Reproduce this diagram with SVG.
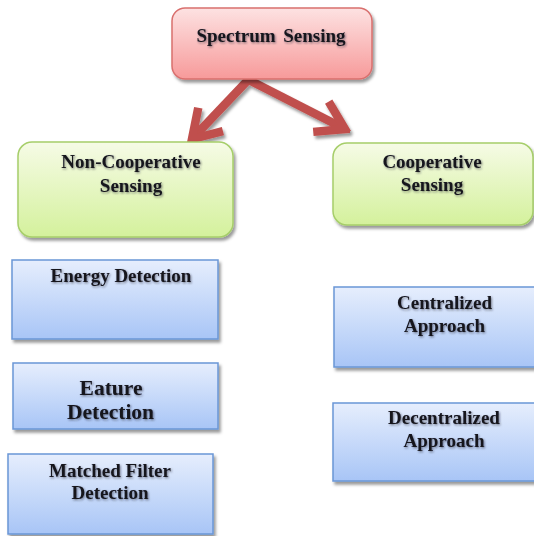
<svg xmlns="http://www.w3.org/2000/svg" width="534" height="536" viewBox="0 0 534 536">
  <defs>
    <linearGradient id="gRed" x1="0" y1="0" x2="0" y2="1">
      <stop offset="0" stop-color="#fde2e2"/>
      <stop offset="1" stop-color="#f79a9a"/>
    </linearGradient>
    <linearGradient id="gGreen" x1="0" y1="0" x2="0" y2="1">
      <stop offset="0" stop-color="#f6fbe6"/>
      <stop offset="1" stop-color="#d4f19c"/>
    </linearGradient>
    <linearGradient id="gBlue" x1="0" y1="0" x2="0" y2="1">
      <stop offset="0" stop-color="#e6eefd"/>
      <stop offset="1" stop-color="#a8c5f6"/>
    </linearGradient>
    <filter id="shadow" x="-10%" y="-10%" width="125%" height="130%">
      <feDropShadow dx="2" dy="3" stdDeviation="1.5" flood-color="#000" flood-opacity="0.4"/>
    </filter>
    <filter id="textGlow" x="-5%" y="-20%" width="110%" height="150%">
      <feDropShadow dx="1" dy="1.2" stdDeviation="0.9" flood-color="#223" flood-opacity="0.55"/>
    </filter>
    <marker id="chevron" markerUnits="userSpaceOnUse" markerWidth="44" markerHeight="44" viewBox="-38 -22 44 44" refX="0" refY="0" orient="auto">
      <path d="M-27,-17 L0,0 L-27,17" fill="none" stroke="#c0504d" stroke-width="8.5" stroke-linejoin="miter" stroke-linecap="butt"/>
    </marker>
    <style>
      .red { fill: url(#gRed); stroke: #d9706e; stroke-width: 1.5; filter: url(#shadow); }
      .green { fill: url(#gGreen); stroke: #a6ce6a; stroke-width: 1.5; filter: url(#shadow); }
      .blue { fill: url(#gBlue); stroke: #6a96d6; stroke-width: 1.5; filter: url(#shadow); }
      .label { font-family: "Liberation Serif", "Times New Roman", serif; font-weight: bold; font-size: 19px; fill: #14141e; text-anchor: middle; filter: url(#textGlow); }
      .big { font-size: 21.5px; }
      .arrow { fill: none; stroke: #c0504d; stroke-width: 8.5; stroke-linecap: butt; marker-end: url(#chevron); }
    </style>
  </defs>

  <rect width="534" height="536" fill="#ffffff"/>

  <g id="connectors" filter="url(#shadow)">
    <path class="arrow" d="M249,79 L192,139"/>
    <path class="arrow" d="M247,79 L345,129"/>
  </g>

  <g id="spectrum-sensing">
    <rect class="red" x="172" y="8" width="200" height="71" rx="13"/>
    <text class="label" x="271" y="42" word-spacing="3">Spectrum Sensing</text>
  </g>

  <g id="non-cooperative-sensing">
    <rect class="green" x="18" y="142" width="215" height="95" rx="14"/>
    <text class="label" x="131" y="168">Non-Cooperative</text>
    <text class="label" x="131" y="192">Sensing</text>
  </g>

  <g id="cooperative-sensing">
    <rect class="green" x="333" y="143" width="200" height="82" rx="14"/>
    <text class="label" x="432" y="168">Cooperative</text>
    <text class="label" x="432" y="191">Sensing</text>
  </g>

  <g id="energy-detection">
    <rect class="blue" x="12" y="260" width="206" height="79"/>
    <text class="label" x="121" y="282">Energy Detection</text>
  </g>

  <g id="eature-detection">
    <rect class="blue" x="13" y="363" width="205" height="66"/>
    <text class="label big" x="111" y="395">Eature</text>
    <text class="label big" x="110.5" y="419">Detection</text>
  </g>

  <g id="matched-filter-detection">
    <rect class="blue" x="8" y="454" width="205" height="80"/>
    <text class="label" x="110" y="477">Matched Filter</text>
    <text class="label" x="110" y="499">Detection</text>
  </g>

  <g id="centralized-approach">
    <rect class="blue" x="334" y="287" width="205" height="80"/>
    <text class="label" x="444.5" y="309">Centralized</text>
    <text class="label" x="444.5" y="332">Approach</text>
  </g>

  <g id="decentralized-approach">
    <rect class="blue" x="333" y="403" width="205" height="78"/>
    <text class="label" x="444" y="424">Decentralized</text>
    <text class="label" x="444" y="447">Approach</text>
  </g>
</svg>
